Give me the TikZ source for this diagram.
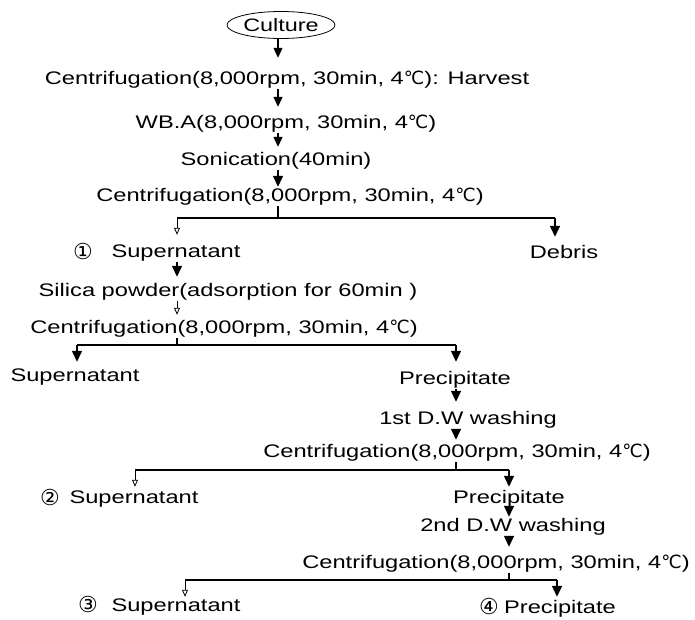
\documentclass[tikz,border=0pt]{standalone}
\usepackage{fontspec}
\setmainfont{Liberation Sans}[FakeStretch=1.3]
\newfontfamily\symfont{DejaVu Sans}
\usetikzlibrary{arrows.meta,shapes.geometric}
\newcommand\dgc{{\symfont ℃}}
\newcommand\cnum[1]{{\symfont #1}}
\begin{document}
\begin{tikzpicture}[x=1pt,y=-1pt,
  txt/.style={anchor=base,inner sep=0pt,font=\fontsize{18.2}{20}\selectfont,text height=13pt,text depth=4pt},
  numtxt/.style={anchor=base,inner sep=0pt,font=\fontsize{22}{24}\selectfont,text height=13pt,text depth=4pt},
  cultbox/.style={ellipse,draw,line width=0.8pt,minimum width=108pt,minimum height=27pt,inner sep=0pt,font=\fontsize{18}{20}\selectfont},
  arrS/.style={line width=1.4pt,-{Triangle[width=10pt,length=11pt]}},
  arrA/.style={line width=1.1pt,-{Triangle[width=9pt,length=10pt]}},
  arrT/.style={line width=0.8pt,-{Triangle[open,width=6pt,length=7pt]}},
  lineS/.style={line width=1.8pt}]
\useasboundingbox (0,0) rectangle (695,620);
% nodes (base y = visual centre + 6.5)
\node[cultbox] (cul) at (281,25) {Culture};
\node[txt] (r1) at (287,84.5) {Centrifugation(8,000rpm, 30min, 4\dgc): Harvest};
\node[txt] (wba) at (286,128.5) {WB.A(8,000rpm, 30min, 4\dgc)};
\node[txt] (son) at (276,165.5) {Sonication(40min)};
\node[txt] (r4) at (290,201.5) {Centrifugation(8,000rpm, 30min, 4\dgc)};
\node[numtxt] (n1) at (83,259.5) {\cnum{①}};
\node[txt] (sup1) at (176,257.5) {Supernatant};
\node[txt] (deb) at (564,258.5) {Debris};
\node[txt] (sil) at (228,296.5) {Silica powder(adsorption for 60min )};
\node[txt] (r7) at (224,333.5) {Centrifugation(8,000rpm, 30min, 4\dgc)};
\node[txt] (sup2) at (75,381.5) {Supernatant};
\node[txt] (pre1) at (455,384.5) {Precipitate};
\node[txt] (w1) at (468,424.5) {1st D.W washing};
\node[txt] (r10) at (457,457.5) {Centrifugation(8,000rpm, 30min, 4\dgc)};
\node[numtxt] (n2) at (50,505.5) {\cnum{②}};
\node[txt] (sup3) at (134,503.5) {Supernatant};
\node[txt] (pre2) at (509,503.5) {Precipitate};
\node[txt] (w2) at (513,531.5) {2nd D.W washing};
\node[txt] (r13) at (496,568.5) {Centrifugation(8,000rpm, 30min, 4\dgc)};
\node[numtxt] (n3) at (88,612.5) {\cnum{③}};
\node[txt] (sup4) at (176,611.5) {Supernatant};
\node[numtxt] (n4) at (489,614.5) {\cnum{④}};
\node[txt] (pre3) at (560,613.5) {Precipitate};
% columns and junctions
\coordinate (colA) at (278,0);
\coordinate (colB) at (177,0);
\coordinate (colC) at (456,0);
\coordinate (colD) at (509,0);
\coordinate (j4) at (278,218);
\coordinate (b4l) at (177,218);
\coordinate (b4r) at (555,218);
\coordinate (j7) at (177,345);
\coordinate (b7l) at (77,345);
\coordinate (b7r) at (456,345);
\coordinate (j10) at (456,470);
\coordinate (b10l) at (135,470);
\coordinate (b10r) at (509,470);
\coordinate (j13) at (509,580);
\coordinate (b13l) at (185,580);
\coordinate (b13r) at (557,580);
% main column
\draw[arrA,shorten >=13.5pt] (cul.south -| colA) -- (r1.north -| colA);
\draw[arrA,shorten >=8.5pt] (r1.south -| colA) -- (wba.north -| colA);
\draw[arrA,shorten >=5.5pt] (wba.south -| colA) -- (son.north -| colA);
\draw[arrS,shorten >=1.5pt] (son.south -| colA) -- (r4.north -| colA);
% branch 1
\draw[lineS] (r4.south -| colA) -- (j4);
\draw[lineS] (b4l) -- (b4r);
\draw[arrT,shorten >=9.5pt] (b4l) -- (sup1.north -| b4l);
\draw[arrS,shorten >=8.5pt] (b4r) -- (deb.north -| b4r);
\draw[arrS,shorten >=6.5pt] (sup1.south -| colB) -- (sil.north -| colB);
\draw[arrT,shorten >=5.5pt] (sil.south -| colB) -- (r7.north -| colB);
% branch 2
\draw[lineS] (r7.south -| j7) -- (j7);
\draw[lineS] (b7l) -- (b7r);
\draw[arrS,shorten >=6.5pt] (b7l) -- (sup2.north -| b7l);
\draw[arrS,shorten >=9.5pt] (b7r) -- (pre1.north -| b7r);
\draw[arrS,shorten >=9.5pt] (pre1.south -| colC) -- (w1.north -| colC);
\draw[arrS,shorten >=4.5pt] (w1.south -| colC) -- (r10.north -| colC);
% branch 3
\draw[lineS] (r10.south -| colC) -- (j10);
\draw[lineS] (b10l) -- (b10r);
\draw[arrT,shorten >=3.5pt] (b10l) -- (sup3.north -| b10l);
\draw[arrS,shorten >=3.5pt] (b10r) -- (pre2.north -| b10r);
\draw[arrS,shorten <=-5.5pt,shorten >=1.5pt] (pre2.south -| colD) -- (w2.north -| colD);
\draw[arrS,shorten >=8.5pt] (w2.south -| colD) -- (r13.north -| colD);
% branch 4
\draw[lineS] (r13.south -| colD) -- (j13);
\draw[lineS] (b13l) -- (b13r);
\draw[arrT,shorten >=1.5pt] (b13l) -- (sup4.north -| b13l);
\draw[arrS,shorten >=3.5pt] (b13r) -- (pre3.north -| b13r);
\end{tikzpicture}
\end{document}
